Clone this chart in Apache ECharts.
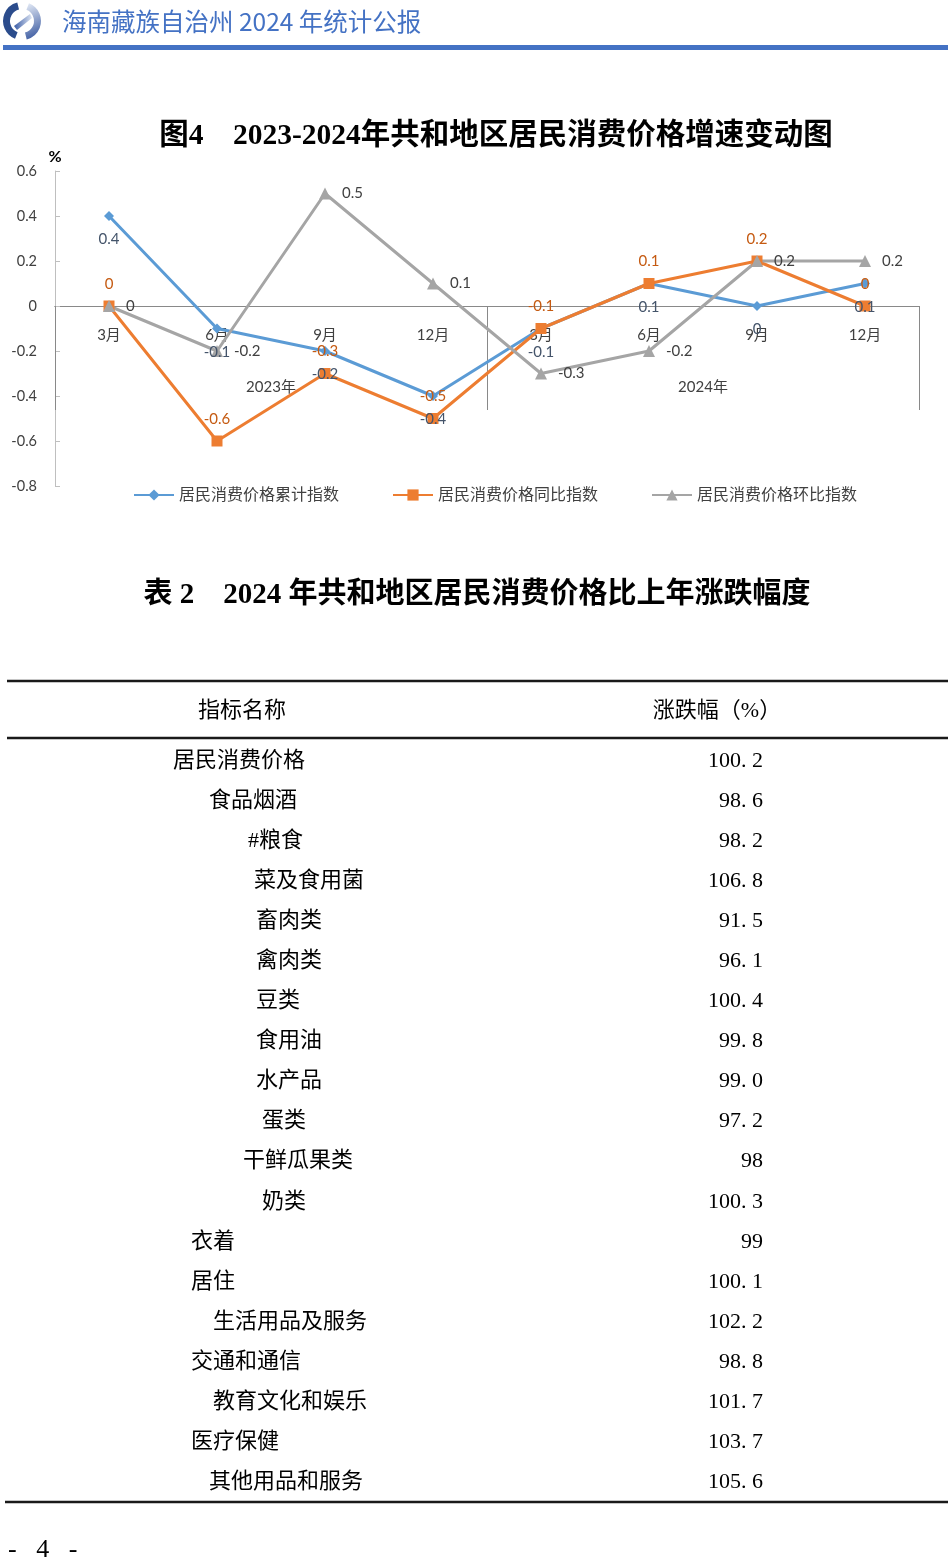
<!DOCTYPE html>
<html><head><meta charset="utf-8">
<script src="https://cdn.jsdelivr.net/npm/echarts@6/dist/echarts.min.js"></script>
<style>html,body{margin:0;padding:0;background:#fff}#c{width:950px;height:1560px}</style>
</head><body><div id="c"></div>
<script>
// ---- chart data ----
const months = ['3月','6月','9月','12月','3月','6月','9月','12月'];
const years = ['2023年','2024年'];
const cumulative = [0.4, -0.1, -0.2, -0.4, -0.1, 0.1, 0, 0.1];
const yoy = [0, -0.6, -0.3, -0.5, -0.1, 0.1, 0.2, 0];
const mom = [0, -0.2, 0.5, 0.1, -0.3, -0.2, 0.2, 0.2];
const seriesNames = ['居民消费价格累计指数','居民消费价格同比指数','居民消费价格环比指数'];
const yMin = -0.8, yMax = 0.6, yStep = 0.2;

// ---- table data ----
const pageHeader = '海南藏族自治州 2024 年统计公报';
const chartTitle = '图4　2023-2024年共和地区居民消费价格增速变动图';
const tableTitle = '表 2　2024 年共和地区居民消费价格比上年涨跌幅度';
const tableHeader = ['指标名称', '涨跌幅（%）'];
const tableNames = ['居民消费价格','食品烟酒','#粮食','菜及食用菌','畜肉类','禽肉类','豆类','食用油','水产品','蛋类','干鲜瓜果类','奶类','衣着','居住','生活用品及服务','交通和通信','教育文化和娱乐','医疗保健','其他用品和服务'];
const tableValues = ['100.2','98.6','98.2','106.8','91.5','96.1','100.4','99.8','99.0','97.2','98','100.3','99','100.1','102.2','98.8','101.7','103.7','105.6'];
const pageNumber = '-   4   -';

// ---- layout (separate from data) ----
const rowIndent = [173,209,248,254,256,256,256,256,256,262,243,262,191,191,213,191,213,191,209];
const rowTop = 761, rowStep = 40.07, valueRight = 763;

const chart = echarts.init(document.getElementById('c'));
const cjk = '"Noto Sans CJK SC"';
const serifFont = '"Liberation Serif", "Noto Sans CJK SC"';
const labelFont = 'Lato, "Noto Sans CJK SC", sans-serif';

const graphics = [];
// logo
graphics.push({type:'sector', shape:{cx:22, cy:21, r:19, r0:12, startAngle:Math.PI*0.62, endAngle:Math.PI*1.42}, style:{fill:'#2B4C8C'}});
graphics.push({type:'sector', shape:{cx:22, cy:21, r:19, r0:12, startAngle:-Math.PI*0.38, endAngle:Math.PI*0.42},
  style:{fill:new echarts.graphic.LinearGradient(0,0,1,1,[{offset:0,color:'#E8EEF8'},{offset:1,color:'#2E4F9A'}])}});
graphics.push({type:'polygon', shape:{points:[[14,26],[30,14],[32,18],[17,30]]},
  style:{fill:new echarts.graphic.LinearGradient(0,0,1,0,[{offset:0,color:'#3A5CA6'},{offset:1,color:'#DDE5F3'}])}});
graphics.push({type:'text', x:62, y:22, style:{text:pageHeader, font:'24.5px ' + cjk, fill:'#4472C4', textVerticalAlign:'middle'}});
graphics.push({type:'rect', shape:{x:3, y:45, width:945, height:5}, style:{fill:'#4472C4'}});
// titles
graphics.push({type:'text', x:496, y:136, style:{text:chartTitle, font:'bold 29.5px ' + serifFont, fill:'#000', textAlign:'center', textVerticalAlign:'middle'}});
graphics.push({type:'text', x:477, y:596, style:{text:tableTitle, font:'bold 29px ' + serifFont, fill:'#000', textAlign:'center', textVerticalAlign:'middle'}});
// table rules
[[7,681],[7,738],[5,1502]].forEach(function(p){
  graphics.push({type:'line', shape:{x1:p[0], y1:p[1], x2:948, y2:p[1]}, style:{stroke:'#1a1a1a', lineWidth:2.5}});
});
graphics.push({type:'text', x:242, y:711, style:{text:tableHeader[0], font:'22px ' + serifFont, fill:'#000', textAlign:'center', textVerticalAlign:'middle'}});
graphics.push({type:'text', x:717, y:711, style:{text:tableHeader[1], font:'22px ' + serifFont, fill:'#000', textAlign:'center', textVerticalAlign:'middle'}});
tableNames.forEach(function(name, i){
  const y = rowTop + i * rowStep;
  graphics.push({type:'text', x:rowIndent[i], y:y, style:{text:name, font:'22px ' + serifFont, fill:'#000', textVerticalAlign:'middle'}});
  graphics.push({type:'text', x:valueRight, y:y, style:{text:tableValues[i].replace('.', '. '), font:'22px ' + serifFont, fill:'#000', textAlign:'right', textVerticalAlign:'middle'}});
});
graphics.push({type:'text', x:8, y:1550, style:{text:pageNumber, font:'26px ' + serifFont, fill:'#000', textVerticalAlign:'middle'}});

const lbl = {fontSize:15, fontFamily:labelFont};
const option = {
  backgroundColor:'#fff',
  animation:false,
  textStyle:{fontFamily:labelFont},
  grid:{left:55, right:31, top:171, bottom:1074, containLabel:false},
  legend:{
    left:128, top:482, itemWidth:40, itemHeight:14, itemGap:53,
    textStyle:{fontSize:16, color:'#404040', fontFamily:labelFont},
    data:seriesNames
  },
  xAxis:[{
    type:'category', data:months, boundaryGap:true, position:'bottom',
    axisLine:{onZero:true, lineStyle:{color:'#898989', width:1}},
    axisTick:{show:false},
    axisLabel:{interval:0, margin:-158, color:'#404040', fontSize:15, fontFamily:labelFont}
  },{
    type:'category', data:years, boundaryGap:true, position:'bottom',
    axisLine:{onZero:true, onZeroAxisIndex:0, lineStyle:{color:'#898989', width:1}},
    axisTick:{show:true, interval:0, length:104, inside:false, lineStyle:{color:'#898989', width:1}},
    axisLabel:{interval:0, margin:-106, color:'#404040', fontSize:15, fontFamily:labelFont}
  }],
  yAxis:{
    type:'value', min:yMin, max:yMax, interval:yStep,
    name:'%', nameLocation:'end', nameGap:6,
    nameTextStyle:{fontSize:16, fontWeight:'bold', color:'#000', align:'center'},
    axisLine:{show:true, lineStyle:{color:'#BFBFBF'}},
    axisTick:{show:true, inside:true, length:5, lineStyle:{color:'#BFBFBF'}},
    splitLine:{show:false},
    axisLabel:{margin:18, color:'#404040', fontSize:14.5, fontFamily:labelFont,
      formatter:function(v){return String(Math.round(v*10)/10);}}
  },
  series:[{
    name:seriesNames[0], type:'line', xAxisIndex:0, data:cumulative,
    symbol:'diamond', symbolSize:10,
    lineStyle:{color:'#5B9BD5', width:3}, itemStyle:{color:'#5B9BD5'},
    label:Object.assign({show:true, position:'bottom', distance:11, color:'#44546A'}, lbl)
  },{
    name:seriesNames[1], type:'line', xAxisIndex:0, data:yoy,
    symbol:'rect', symbolSize:11,
    lineStyle:{color:'#ED7D31', width:3}, itemStyle:{color:'#ED7D31'},
    label:Object.assign({show:true, position:'top', distance:9, color:'#C55A11'}, lbl)
  },{
    name:seriesNames[2], type:'line', xAxisIndex:0, data:mom,
    symbol:'triangle', symbolSize:12,
    lineStyle:{color:'#A5A5A5', width:3}, itemStyle:{color:'#A5A5A5'},
    label:Object.assign({show:true, position:'right', distance:11, color:'#404040'}, lbl)
  }],
  graphic:{elements:graphics}
};
chart.setOption(option);
</script>
</body></html>
